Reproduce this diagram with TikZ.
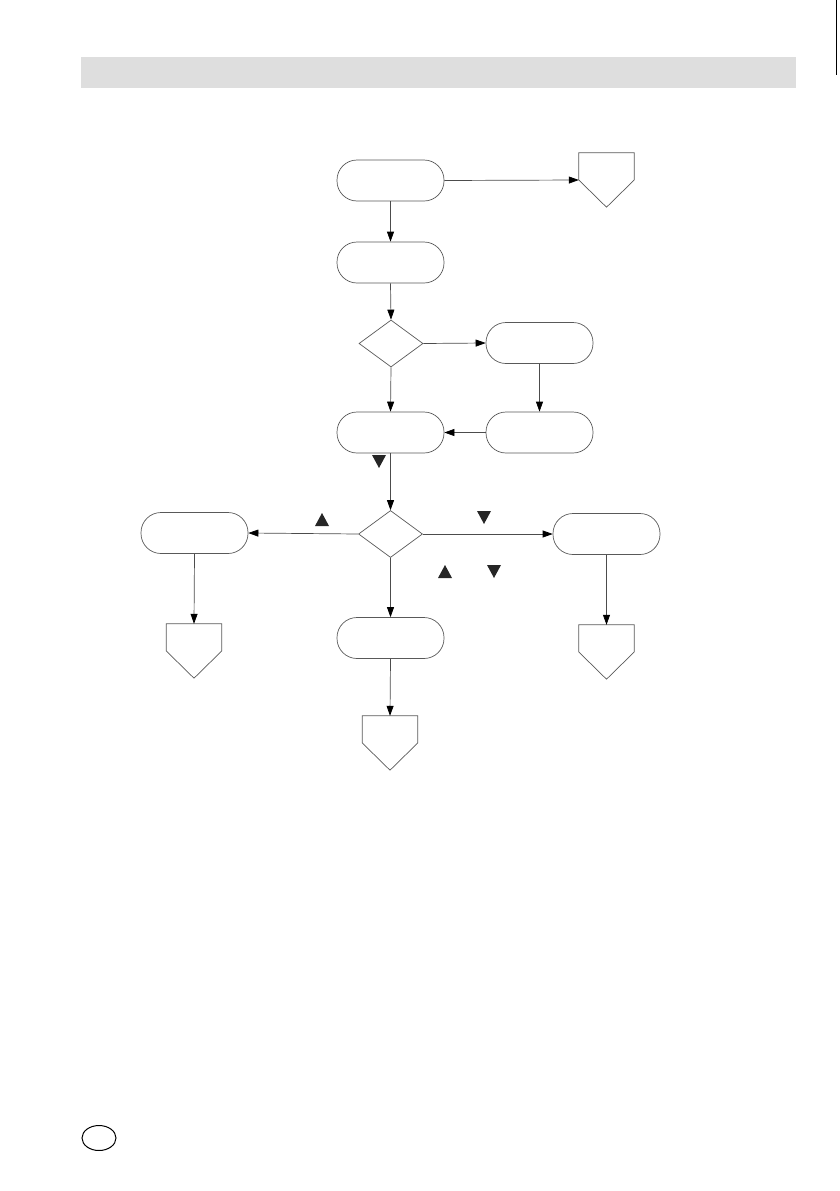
\documentclass[tikz,border=0pt]{standalone}
\usetikzlibrary{arrows.meta,shapes.geometric}
\begin{document}
\begin{tikzpicture}[x=1pt,y=-1pt,
  term/.style={draw=black!65,line width=0.7pt,rectangle,rounded corners=20pt,minimum width=107pt,minimum height=41pt,inner sep=0pt},
  dia/.style={draw=black!65,line width=0.7pt,diamond,minimum width=64pt,minimum height=47pt,inner sep=0pt},
  pentbox/.style={rectangle,minimum width=55pt,minimum height=54pt,inner sep=0pt},
  pentline/.style={draw=black!65,line width=0.7pt},
  conn/.style={draw=black!70,line width=0.7pt,-{Triangle[length=10pt,width=7pt,color=black]}},
  keytri/.style={fill=black!85,draw=none}]
\useasboundingbox (0,0) rectangle (839,1191);
% header bar
\fill[black!13] (81,57) rectangle (796,88);
\draw[black,line width=0.8pt] (836,0) -- (836,75);
% nodes
\node[term] (A) at (390.5,180.5) {};
\node[pentbox] (P0) at (606.5,180) {};
\node[term] (B) at (390.5,262.5) {};
\node[dia] (D1) at (391,343.5) {};
\node[term] (C) at (539.5,343) {};
\node[term] (D) at (390.5,432.5) {};
\node[term] (E) at (539.5,432.5) {};
\node[dia] (D2) at (390.5,534) {};
\node[term] (F) at (194.5,533) {};
\node[term] (G) at (606.5,534) {};
\node[term] (H) at (390.5,638) {};
\node[pentbox] (P1) at (194,651) {};
\node[pentbox] (P2) at (390,743) {};
\node[pentbox] (P3) at (606.5,652) {};
\foreach \p in {P0,P1,P2,P3}
  \draw[pentline] (\p.north west) -- (\p.north east) -- (\p.east) -- (\p.south) -- (\p.west) -- cycle;
% connectors
\draw[conn] (A.east) -- (P0.west);
\draw[conn] (A.south) -- (B.north);
\draw[conn] (B.south) -- (D1.north);
\draw[conn] (D1.east) -- (C.west);
\draw[conn] (D1.south) -- (D.north);
\draw[conn] (C.south) -- (E.north);
\draw[conn] (E.west) -- (D.east);
\draw[conn] (D.south) -- (D2.north);
\draw[conn] (D2.west) -- (F.east);
\draw[conn] (D2.east) -- (G.west);
\draw[conn] (D2.south) -- (H.north);
\draw[conn] (F.south) -- (P1.north);
\draw[conn] (G.south) -- (P3.north);
\draw[conn] (H.south) -- (P2.north);
% key markers
\path[keytri] (372,455) -- (386,455) -- (379,468) -- cycle;
\path[keytri] (315,526) -- (329,526) -- (322,513) -- cycle;
\path[keytri] (477,511) -- (491,511) -- (484,524) -- cycle;
\path[keytri] (438,578) -- (452,578) -- (445,565) -- cycle;
\path[keytri] (487,565) -- (501,565) -- (494,578) -- cycle;
% bottom ellipse
\draw[black,line width=1pt] (99,1138) ellipse (17pt and 12.5pt);
\end{tikzpicture}
\end{document}
